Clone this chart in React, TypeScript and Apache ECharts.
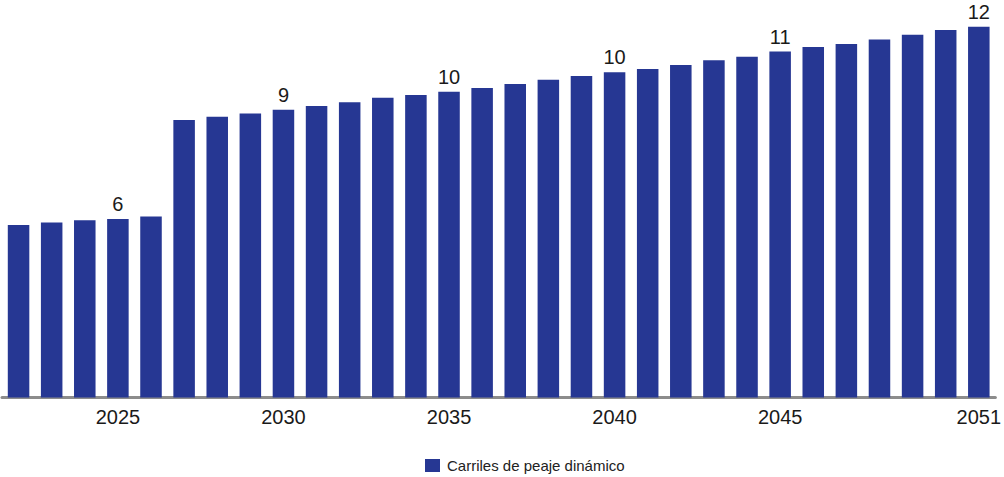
import React, { useEffect, useRef } from "react";
import * as echarts from "echarts";

const years: string[] = [
  "2022", "2023", "2024", "2025", "2026", "2027", "2028", "2029", "2030", "2031",
  "2032", "2033", "2034", "2035", "2036", "2037", "2038", "2039", "2040", "2041",
  "2042", "2043", "2044", "2045", "2046", "2047", "2048", "2049", "2050", "2051",
];

const laneValues: number[] = [
  5.75, 5.83, 5.91, 5.95, 6.03, 9.25, 9.36, 9.47, 9.59, 9.72,
  9.84, 9.99, 10.08, 10.19, 10.32, 10.45, 10.59, 10.72, 10.84, 10.95,
  11.08, 11.24, 11.36, 11.53, 11.68, 11.78, 11.93, 12.09, 12.25, 12.36,
];

const valueLabels: string[] = [
  "", "", "", "6", "", "", "", "", "9", "",
  "", "", "", "10", "", "", "", "", "10", "",
  "", "", "", "11", "", "", "", "", "", "12",
];

const tickYears: string[] = ["2025", "2030", "2035", "2040", "2045", "2051"];

const seriesName = "Carriles de peaje dinámico";

export default function App() {
  const ref = useRef<HTMLDivElement>(null);

  useEffect(() => {
    if (!ref.current) return;
    const chart = echarts.init(ref.current, undefined, { renderer: "svg" });
    const font = "'Liberation Sans', Arial, sans-serif";
    chart.setOption({
      animation: false,
      textStyle: { fontFamily: font },
      grid: { left: 2, right: 5, top: 7.5, bottom: 79.5, containLabel: false },
      legend: {
        data: [seriesName],
        left: 420,
        top: 453,
        icon: "rect",
        itemWidth: 15,
        itemHeight: 13,
        textStyle: { fontSize: 15, color: "#222", fontFamily: font, padding: [0, 0, 0, 2] },
      },
      xAxis: {
        type: "category",
        data: years,
        axisLine: { show: true, lineStyle: { color: "#8c8c8c", width: 3 } },
        axisTick: { show: false },
        axisLabel: {
          interval: (_i: number, v: string) => tickYears.includes(v),
          fontSize: 20,
          color: "#1a1a1a",
          margin: 9,
          fontFamily: font,
        },
      },
      yAxis: {
        type: "value",
        min: 0,
        max: 13,
        show: false,
        splitLine: { show: false },
      },
      series: [
        {
          name: seriesName,
          type: "bar",
          data: laneValues,
          barWidth: "65%",
          itemStyle: { color: "#263793" },
          label: {
            show: true,
            position: "top",
            distance: 5,
            fontSize: 20,
            color: "#1a1a1a",
            fontFamily: font,
            formatter: (p: any) => valueLabels[p.dataIndex],
          },
        },
      ],
    });
    return () => chart.dispose();
  }, []);

  return (
    <div
      ref={ref}
      style={{ position: "fixed", left: 0, top: 0, width: 1004, height: 477, background: "#fff" }}
    />
  );
}
